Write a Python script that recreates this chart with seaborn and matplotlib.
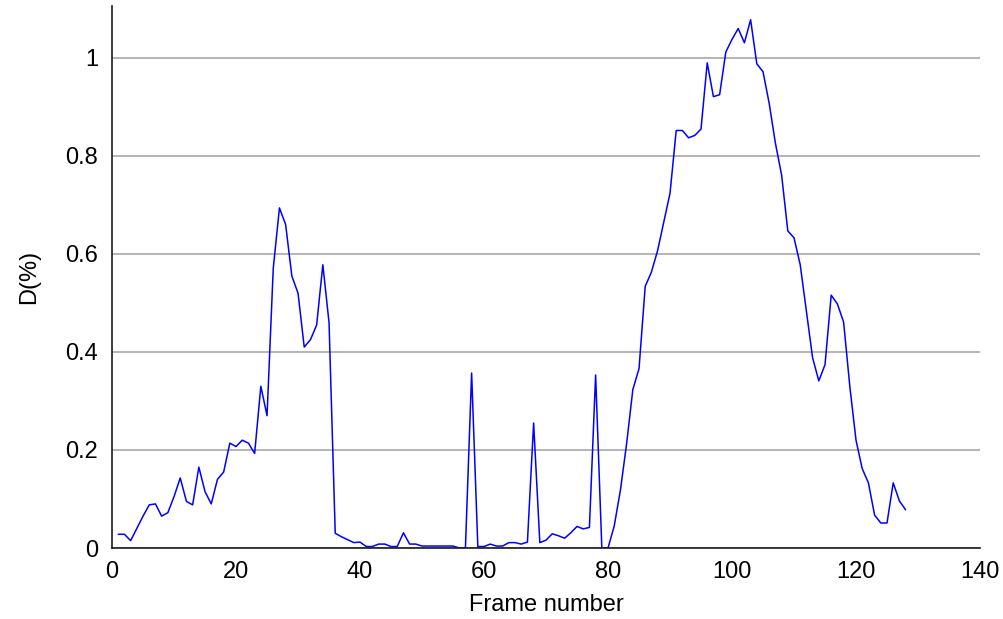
import numpy as np
import pandas as pd
import seaborn as sns
import matplotlib
matplotlib.use("Agg")
import matplotlib.pyplot as plt

# frame index and measured D(%) per frame
frames = list(range(1, 129))
d_values = [
    0.028, 0.028, 0.015, 0.040, 0.065, 0.088, 0.090, 0.065, 0.072, 0.105,
    0.143, 0.095, 0.088, 0.165, 0.115, 0.090, 0.140, 0.155, 0.214, 0.207,
    0.220, 0.214, 0.193, 0.330, 0.270, 0.570, 0.694, 0.660, 0.555, 0.520,
    0.410, 0.425, 0.455, 0.578, 0.460, 0.030, 0.023, 0.017, 0.011, 0.012,
    0.003, 0.003, 0.008, 0.008, 0.003, 0.003, 0.031, 0.008, 0.008, 0.004,
    0.004, 0.004, 0.004, 0.004, 0.004, 0.000, 0.000, 0.357, 0.003, 0.003,
    0.008, 0.004, 0.004, 0.011, 0.011, 0.008, 0.012, 0.255, 0.011, 0.016,
    0.029, 0.025, 0.020, 0.031, 0.044, 0.039, 0.042, 0.353, 0.000, 0.000,
    0.045, 0.118, 0.213, 0.323, 0.366, 0.534, 0.563, 0.607, 0.666, 0.724,
    0.852, 0.852, 0.837, 0.842, 0.855, 0.990, 0.921, 0.925, 1.012, 1.038,
    1.060, 1.031, 1.078, 0.988, 0.972, 0.907, 0.826, 0.761, 0.647, 0.633,
    0.578, 0.483, 0.388, 0.341, 0.374, 0.516, 0.498, 0.461, 0.330, 0.220,
    0.162, 0.133, 0.067, 0.051, 0.051, 0.133, 0.096, 0.078,
]
x_ticks = [0, 20, 40, 60, 80, 100, 120, 140]
y_ticks = [0, 0.2, 0.4, 0.6, 0.8, 1.0]
y_tick_labels = ["0", "0.2", "0.4", "0.6", "0.8", "1"]

df = pd.DataFrame({"frame": frames, "d": d_values})

sns.set_style("white")
plt.rcParams["font.family"] = ["Liberation Sans", "DejaVu Sans"]
plt.rcParams["text.color"] = "black"
plt.rcParams["axes.labelcolor"] = "black"
plt.rcParams["xtick.color"] = "black"
plt.rcParams["ytick.color"] = "black"

fig = plt.figure(figsize=(10.04, 6.19), dpi=100)
ax = fig.add_axes([0.1116, 0.1147, 0.8645, 0.8756])

sns.lineplot(data=df, x="frame", y="d", color="#0000ff", linewidth=1.1, ax=ax)

ax.set_xlim(0, 140)
ax.set_ylim(0, 1.106)
ax.set_xticks(x_ticks)
ax.set_yticks(y_ticks)
ax.set_yticklabels(y_tick_labels)

ax.yaxis.grid(True, color="#a8a8a8", linewidth=1.2)
ax.xaxis.grid(False)
ax.set_axisbelow(True)

for side in ["top", "right"]:
    ax.spines[side].set_visible(False)
for side in ["left", "bottom"]:
    ax.spines[side].set_color("#1a1a1a")
    ax.spines[side].set_linewidth(1.2)

ax.tick_params(axis="x", direction="in", length=8, width=1.2, color="#1a1a1a",
               labelsize=17, pad=9)
ax.tick_params(axis="y", length=0, labelsize=17, pad=10)

ax.set_xlabel("Frame number", fontsize=17, labelpad=8)
ax.set_ylabel("D(%)", fontsize=17, labelpad=18)

fig.savefig("out.png", dpi=100)
